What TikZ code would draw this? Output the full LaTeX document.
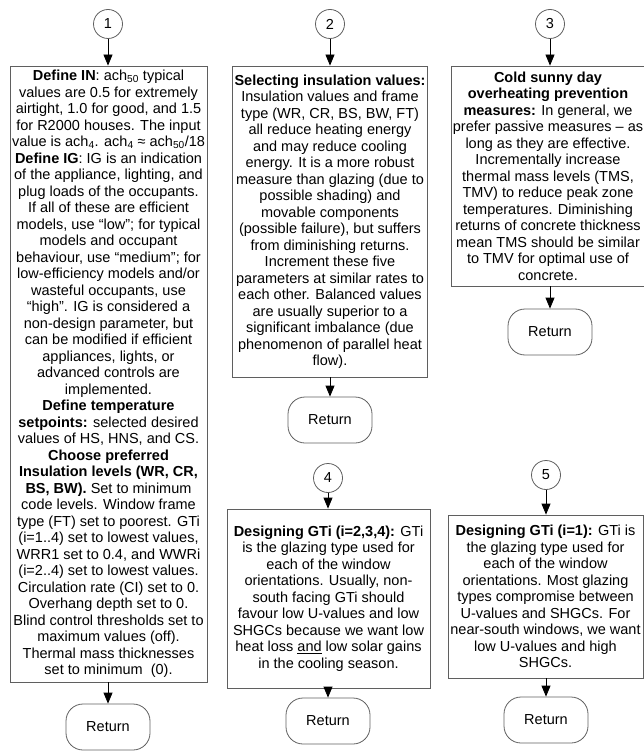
\documentclass[tikz,border=0pt]{standalone}
\usepackage{fontspec}
\setmainfont{Liberation Sans}
\usetikzlibrary{arrows.meta,shapes.geometric}
\definecolor{boxgray}{RGB}{95,95,95}
\begin{document}
\begin{tikzpicture}[x=1pt,y=-1pt,
  txt/.style={font=\fontsize{14.5}{16.5}\selectfont},
  stepbox/.style={txt,draw=boxgray,line width=0.8pt,align=center,inner sep=2pt},
  conncircle/.style={txt,circle,draw=boxgray,line width=0.8pt,minimum size=29pt,inner sep=0pt},
  retbox/.style={txt,draw=boxgray,line width=0.8pt,rounded corners=17pt,minimum width=84pt,minimum height=46pt,inner sep=0pt},
  link/.style={draw=black,line width=0.8pt,-{Triangle[length=11pt,width=9pt]}}]
\useasboundingbox (0,0) rectangle (644,751);

% connectors (circles)
\node[conncircle] (c1) at (108,24) {1};
\node[conncircle] (c2) at (330,24) {2};
\node[conncircle] (c3) at (550,24) {3};
\node[conncircle] (c4) at (328,478) {4};
\node[conncircle] (c5) at (546,475) {5};

% boxes
\node[stepbox,minimum width=197pt,minimum height=616pt] (b1) at (108.5,374) {%
\textbf{Define IN}: ach\textsubscript{50} typical\\
values are 0.5 for extremely\\
airtight, 1.0 for good, and 1.5\\
for R2000 houses. The input\\
value is ach\textsubscript{4}. ach\textsubscript{4} ≈ ach\textsubscript{50}/18\\
\textbf{Define IG}: IG is an indication\\
of the appliance, lighting, and\\
plug loads of the occupants.\\
If all of these are efficient\\
models, use “low”; for typical\\
models and occupant\\
behaviour, use “medium”; for\\
low-efficiency models and/or\\
wasteful occupants, use\\
“high”. IG is considered a\\
non-design parameter, but\\
can be modified if efficient\\
appliances, lights, or\\
advanced controls are\\
implemented.\\
\textbf{Define temperature}\\
\textbf{setpoints:} selected desired\\
values of HS, HNS, and CS.\\
\textbf{Choose preferred}\\
\textbf{Insulation levels (WR, CR,}\\
\textbf{BS, BW).} Set to minimum\\
code levels. Window frame\\
type (FT) set to poorest. GTi\\
(i=1..4) set to lowest values,\\
WRR1 set to 0.4, and WWRi\\
(i=2..4) set to lowest values.\\
Circulation rate (CI) set to 0.\\
Overhang depth set to 0.\\
Blind control thresholds set to\\
maximum values (off).\\
Thermal mass thicknesses\\
set to minimum\ \ (0).};

\node[stepbox,minimum width=194pt,minimum height=311pt] (b2) at (330,221.5) {%
\textbf{Selecting insulation values:}\\
Insulation values and frame\\
type (WR, CR, BS, BW, FT)\\
all reduce heating energy\\
and may reduce cooling\\
energy. It is a more robust\\
measure than glazing (due to\\
possible shading) and\\
movable components\\
(possible failure), but suffers\\
from diminishing returns.\\
Increment these five\\
parameters at similar rates to\\
each other. Balanced values\\
are usually superior to a\\
significant imbalance (due\\
phenomenon of parallel heat\\
flow).};

\node[stepbox,minimum width=190pt,minimum height=220pt] (b3) at (548,176) {%
\textbf{Cold sunny day}\\
\textbf{overheating prevention}\\
\textbf{measures:} In general, we\\
prefer passive measures – as\\
long as they are effective.\\
Incrementally increase\\
thermal mass levels (TMS,\\
TMV) to reduce peak zone\\
temperatures. Diminishing\\
returns of concrete thickness\\
mean TMS should be similar\\
to TMV for optimal use of\\
concrete.};

\node[stepbox,minimum width=203pt,minimum height=179pt] (b4) at (328.5,598.5) {%
\textbf{Designing GTi (i=2,3,4):} GTi\\
is the glazing type used for\\
each of the window\\
orientations. Usually, non-\\
south facing GTi should\\
favour low U-values and low\\
SHGCs because we want low\\
heat loss \underline{and} low solar gains\\
in the cooling season.};

\node[stepbox,minimum width=195pt,minimum height=163pt] (b5) at (545.5,596.5) {%
\textbf{Designing GTi (i=1):} GTi is\\
the glazing type used for\\
each of the window\\
orientations. Most glazing\\
types compromise between\\
U-values and SHGCs. For\\
near-south windows, we want\\
low U-values and high\\
SHGCs.};

% returns
\node[retbox] (r1) at (108,727) {Return};
\node[retbox] (r2) at (330,420) {Return};
\node[retbox] (r3) at (550,332) {Return};
\node[retbox] (r4) at (328,721) {Return};
\node[retbox] (r5) at (546,720) {Return};

% arrows
\foreach \i in {1,...,5} {
  \draw[link] (c\i.south) -- (c\i.south |- b\i.north);
  \draw[link] (b\i.south -| r\i.north) -- (r\i.north);
}
\end{tikzpicture}
\end{document}
